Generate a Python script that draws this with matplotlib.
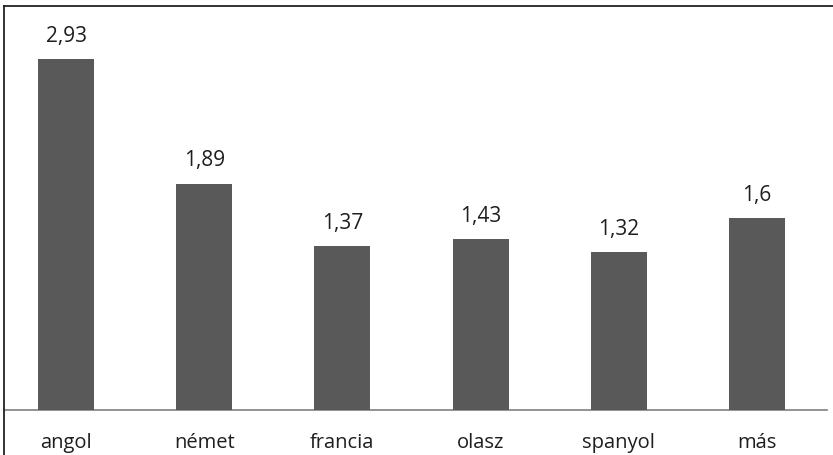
import matplotlib.pyplot as plt
from matplotlib.lines import Line2D

categories = ['angol', 'német', 'francia', 'olasz', 'spanyol', 'más']
values = [2.93, 1.89, 1.37, 1.43, 1.32, 1.6]
value_labels = ['2,93', '1,89', '1,37', '1,43', '1,32', '1,6']

W, H = 833, 456
fig = plt.figure(figsize=(W / 100, H / 100), dpi=100, facecolor='white')
ax = fig.add_axes([4 / W, (H - 411) / H, 823 / W, 404 / H])
ax.set_facecolor('white')

x = list(range(len(categories)))
ax.bar(x, values, width=0.405, color='#595959', zorder=3)
ax.set_xlim(-0.449, 5.507)
ax.set_ylim(0, 3.372)

for xi, v, lbl in zip(x, values, value_labels):
    ax.annotate(lbl, (xi, v), xytext=(0, 17), textcoords='offset points',
                ha='center', va='center', fontsize=15, color='#1e1e1e',
                family='Open Sans')
    ax.annotate(categories[xi], (xi, 0), xytext=(0, -23), textcoords='offset points',
                ha='center', va='center', fontsize=14.5, color='#1e1e1e',
                family='Open Sans')

for s in ['top', 'right', 'left']:
    ax.spines[s].set_visible(False)
ax.spines['bottom'].set_color('#808080')
ax.spines['bottom'].set_linewidth(1.2)
ax.set_xticks([])
ax.set_yticks([])

# frame border (top and left only)
fig.add_artist(Line2D([4 / W, 1], [1 - 7 / H, 1 - 7 / H], color='#222222', lw=1.3))
fig.add_artist(Line2D([4 / W, 4 / W], [0, 1 - 7 / H], color='#222222', lw=1.3))

fig.savefig('out.png', dpi=100, facecolor='white')
